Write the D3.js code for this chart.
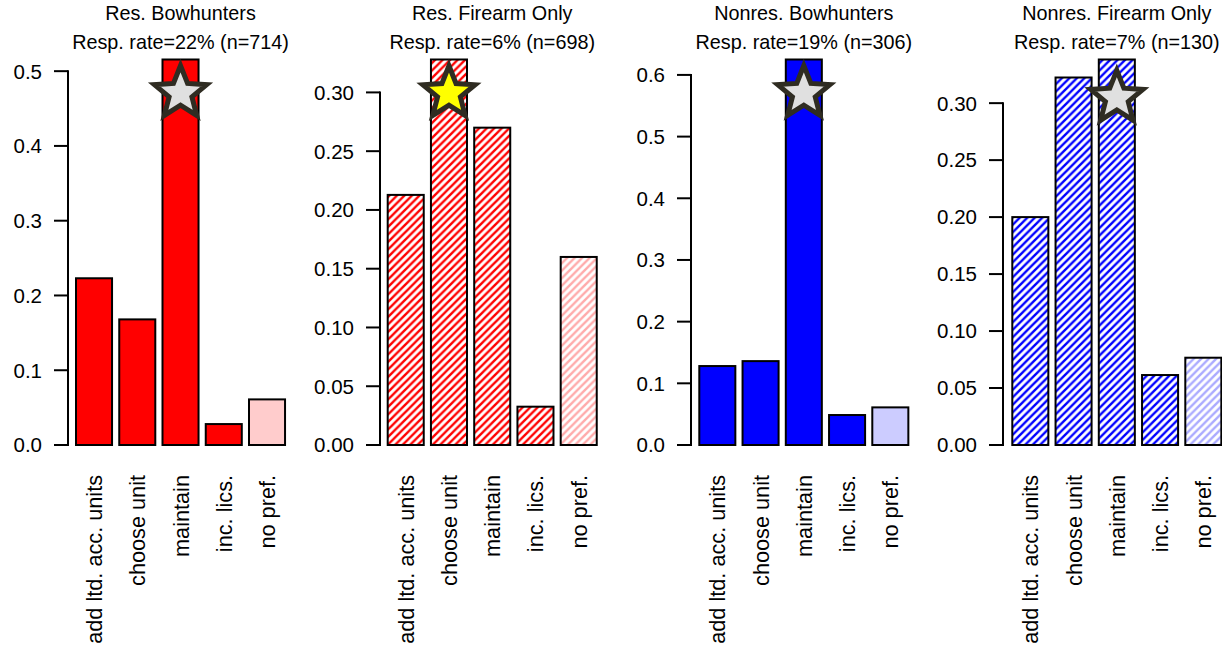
<!DOCTYPE html>
<html>
<head>
<meta charset="utf-8">
<script src="https://cdn.jsdelivr.net/npm/d3@7"></script>
<style>
  html, body { margin: 0; padding: 0; background: #fff; }
  svg { display: block; font-family: "Liberation Sans", Arial, sans-serif; }
</style>
</head>
<body>
<svg id="chart" width="1222" height="649"></svg>
<script>
// ---- data ----
const categories = ["add ltd. acc. units", "choose unit", "maintain", "inc. lics.", "no pref."];
const panelTitles = ["Res. Bowhunters", "Res. Firearm Only", "Nonres. Bowhunters", "Nonres. Firearm Only"];
const panelSubtitles = ["Resp. rate=22% (n=714)", "Resp. rate=6% (n=698)", "Resp. rate=19% (n=306)", "Resp. rate=7% (n=130)"];

const resBowValues     = [0.223, 0.168, 0.5156, 0.028, 0.061];
const resFirearmValues = [0.2128, 0.328, 0.270, 0.0326, 0.160];
const nonresBowValues  = [0.128, 0.136, 0.625, 0.0486, 0.061];
const nonresFirearmValues = [0.200, 0.3225, 0.3383, 0.0614, 0.0766];

const resBowTicks     = [0.0, 0.1, 0.2, 0.3, 0.4, 0.5];
const resFirearmTicks = [0.00, 0.05, 0.10, 0.15, 0.20, 0.25, 0.30];
const nonresBowTicks  = [0.0, 0.1, 0.2, 0.3, 0.4, 0.5, 0.6];
const nonresFirearmTicks = [0.00, 0.05, 0.10, 0.15, 0.20, 0.25, 0.30];
const tickDecimals = [1, 2, 1, 2];

const starCategories = ["maintain", "choose unit", "maintain", "maintain"];
const starValues = [0.4706, 0.2993, 0.5705, 0.3046];

// ---- styles / layout ----
const panelValues = [resBowValues, resFirearmValues, nonresBowValues, nonresFirearmValues];
const panelTicks = [resBowTicks, resFirearmTicks, nonresBowTicks, nonresFirearmTicks];
const panelColor = ["#ff0000", "#ff0000", "#0000ff", "#0000ff"];
const panelLight = ["#ffcccc", "#ffcccc", "#ccccff", "#ccccff"];
const panelHatched = [false, true, false, true];
const starFill = ["#e0e0e0", "#ffff00", "#e0e0e0", "#e0e0e0"];
const barStart = [76, 387.7, 699.3, 1012.3];
const axisX = [68, 380, 691, 1003];
const step = 43.25;
const yBottom = 445, yTop = 59.5;

const svg = d3.select("#chart");
const defs = svg.append("defs");

function makeHatch(id, color) {
  const s = 7.5;
  const p = defs.append("pattern").attr("id", id)
    .attr("patternUnits", "userSpaceOnUse").attr("width", s).attr("height", s);
  p.append("rect").attr("width", s).attr("height", s).attr("fill", "#fff");
  p.append("path")
    .attr("d", `M${-s/2},${s/2} L${s/2},${-s/2} M0,${s} L${s},0 M${s/2},${1.5*s} L${1.5*s},${s/2}`)
    .attr("stroke", color).attr("stroke-width", 2.4).attr("fill", "none");
}
makeHatch("hatch-red", "#ff0000");
makeHatch("hatch-red-light", "#ffaaaa");
makeHatch("hatch-blue", "#0000ff");
makeHatch("hatch-blue-light", "#aaaaff");

function starPath(R, r) {
  const pts = [];
  for (let i = 0; i < 10; i++) {
    const a = -Math.PI / 2 + i * Math.PI / 5;
    const rad = i % 2 === 0 ? R : r;
    pts.push([rad * Math.cos(a), rad * Math.sin(a)]);
  }
  return "M" + pts.map(p => p.join(",")).join("L") + "Z";
}

panelValues.forEach((vals, pi) => {
  const g = svg.append("g");
  const x = d3.scaleBand().domain(categories)
    .range([barStart[pi] - step / 12, barStart[pi] - step / 12 + 5 * step])
    .paddingInner(1 / 6).paddingOuter(1 / 12);
  const y = d3.scaleLinear().domain([0, d3.max(vals)]).range([yBottom, yTop]);

  // axis
  const ticks = panelTicks[pi];
  const dec = tickDecimals[pi];
  const ax = g.append("g").attr("transform", `translate(${axisX[pi]},0)`);
  ax.append("line").attr("x1", 0).attr("x2", 0)
    .attr("y1", y(d3.min(ticks)) + 1).attr("y2", y(d3.max(ticks)) - 1)
    .attr("stroke", "#000").attr("stroke-width", 2);
  ax.selectAll("line.tick").data(ticks).join("line").attr("class", "tick")
    .attr("x1", -14).attr("x2", 0).attr("y1", d => y(d)).attr("y2", d => y(d))
    .attr("stroke", "#000").attr("stroke-width", 2);
  ax.selectAll("text").data(ticks).join("text")
    .attr("x", -26).attr("y", d => y(d)).attr("dy", "0.36em")
    .attr("text-anchor", "end").attr("font-size", 20.5).attr("fill", "#000")
    .text(d => d.toFixed(dec));

  const fillFor = (i) => {
    const light = i === categories.length - 1;
    if (panelHatched[pi]) {
      const base = panelColor[pi] === "#ff0000" ? "hatch-red" : "hatch-blue";
      return `url(#${base}${light ? "-light" : ""})`;
    }
    return light ? panelLight[pi] : panelColor[pi];
  };

  g.selectAll("rect.bar").data(vals).join("rect").attr("class", "bar")
    .attr("x", (d, i) => x(categories[i]))
    .attr("width", x.bandwidth())
    .attr("y", d => y(d))
    .attr("height", d => y(0) - y(d))
    .attr("fill", (d, i) => fillFor(i))
    .attr("stroke", "#000").attr("stroke-width", 2);

  // star
  const sc = starCategories[pi];
  g.append("path")
    .attr("d", starPath(27.5, 12))
    .attr("transform", `translate(${x(sc) + x.bandwidth() / 2},${y(starValues[pi])})`)
    .attr("fill", starFill[pi]).attr("stroke", "#2f2c22")
    .attr("stroke-width", 5).attr("stroke-linejoin", "miter");

  // category labels
  g.selectAll("text.cat").data(categories).join("text").attr("class", "cat")
    .attr("transform", d => `translate(${x(d) + x.bandwidth() / 2 + 8},475) rotate(-90)`)
    .attr("text-anchor", "end").attr("font-size", 21.7).attr("fill", "#000")
    .text(d => d);

  // titles
  const cx = (x(categories[0]) + x(categories[4]) + x.bandwidth()) / 2;
  g.append("text").attr("x", cx).attr("y", 20).attr("text-anchor", "middle")
    .attr("font-size", 19.8).attr("fill", "#000").text(panelTitles[pi]);
  g.append("text").attr("x", cx).attr("y", 49).attr("text-anchor", "middle")
    .attr("font-size", 19.8).attr("fill", "#000").text(panelSubtitles[pi]);
});
</script>
</body>
</html>
